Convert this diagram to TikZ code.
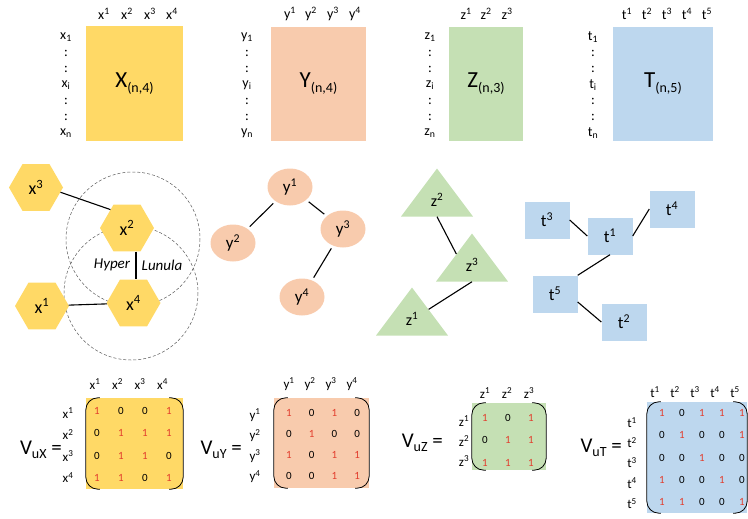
\documentclass[tikz,border=0pt]{standalone}
\usepackage{fontspec}
\setmainfont{Carlito}
\usetikzlibrary{shapes.geometric,calc}
\definecolor{hlyellow}{HTML}{FFD966}
\definecolor{hlorange}{HTML}{F8CBAD}
\definecolor{hlgreen}{HTML}{C5E0B4}
\definecolor{hlblue}{HTML}{BDD7EE}
\definecolor{hlred}{HTML}{E23D2D}
\newcommand\hlfs[1]{\fontsize{#1}{#1}\selectfont}
\newcommand\hlsub[1]{\raisebox{-0.45ex}{\hlfs{14}#1}}
\newcommand\hlval[1]{\ifnum#1=1 \textcolor{hlred}{1}\else 0\fi}
\tikzset{
 hl data/.style={inner sep=0pt,font=\hlfs{23}},
 hl index/.style={inner sep=0pt,font=\hlfs{14}},
 hl hex/.style={regular polygon,regular polygon sides=6,minimum size=54pt,
                inner sep=0pt,fill=hlyellow,font=\hlfs{18}},
 hl oval/.style={ellipse,minimum width=45pt,minimum height=37pt,
                 inner sep=0pt,fill=hlorange,font=\hlfs{17}},
 hl tri/.style={isosceles triangle,isosceles triangle stretches,
                shape border rotate=90,minimum width=72pt,minimum height=48pt,
                inner sep=0pt,fill=hlgreen,font=\hlfs{16}},
 hl box/.style={rectangle,minimum width=45pt,minimum height=37pt,
                inner sep=0pt,fill=hlblue,font=\hlfs{17}},
 hl link/.style={line width=1.1pt},
 hl gap link/.style={hl link,shorten <=3pt,shorten >=3pt},
 hl lunula/.style={densely dashed,line width=.5pt,gray!70!black},
 hl name/.style={inner sep=0pt,font=\itshape\hlfs{15}},
 hl entry/.style={inner sep=0pt,font=\hlfs{11}},
 hl head/.style={inner sep=0pt,font=\hlfs{13}},
 hl bracket/.style={line width=.8pt,rounded corners=12pt},
 hl lhs/.style={anchor=base east,inner sep=0pt,font=\hlfs{21}}
}
\begin{document}
\begin{tikzpicture}[x=1pt,y=-1pt]
 \useasboundingbox (0,0) rectangle (748,519);
 % data tables
 \node[hl data,fill=hlyellow,minimum width=97pt,minimum height=115pt] (X) at (134.5,83.5) {X\hlsub{(n,4)}};
 \node[hl data,fill=hlorange,minimum width=95pt,minimum height=114pt] (Y) at (318.5,84) {Y\hlsub{(n,4)}};
 \node[hl data,fill=hlgreen,minimum width=74pt,minimum height=114pt] (Z) at (486,84) {Z\hlsub{(n,3)}};
 \node[hl data,fill=hlblue,minimum width=100pt,minimum height=114pt] (T) at (663,84) {T\hlsub{(n,5)}};
 \foreach \c/\px in {1/104,2/127,3/150,4/172}{\node[hl index] (xc\c) at (\px,14) {x\textsuperscript{\c}};}
 \foreach \c/\px in {1/290,2/311,3/333,4/355}{\node[hl index] (yc\c) at (\px,14) {y\textsuperscript{\c}};}
 \foreach \c/\px in {1/466,2/486,3/507}{\node[hl index] (zc\c) at (\px,14) {z\textsuperscript{\c}};}
 \foreach \c/\px in {1/627,2/647,3/667,4/687,5/707}{\node[hl index] (tc\c) at (\px,14) {t\textsuperscript{\c}};}
 \foreach \v/\px in {x/66,y/247,z/430,t/593}{
   \foreach \s [count=\k] in {\v\textsubscript{1},:,:,\v\textsubscript{i},:,:,\v\textsubscript{n}}{
     \node[hl index] (\v r\k) at (\px,21+16*\k) {\s};
   }
 }
 % hypergraph with lunula
 \draw[hl lunula] (133,239) circle[radius=67];
 \draw[hl lunula] (131,293) circle[radius=67];
 \node[hl hex] (x3) at (36,187.5) {x\textsuperscript{3}};
 \node[hl hex] (x2) at (127,228) {x\textsuperscript{2}};
 \node[hl hex] (x4) at (133.5,303) {x\textsuperscript{4}};
 \node[hl hex] (x1) at (42,306) {x\textsuperscript{1}};
 \node[hl name] (hyper) at (112,265) {Hyper};
 \node[hl name] (lunula) at (162,265) {Lunula};
 \draw[hl link] (x3.-11) -- (x2.132);
 \draw[hl link] (x1) -- (x4);
 \draw[hl link] ([xshift=9pt]x2.south) -- ([xshift=2.5pt]x4.north);
 % tree of ovals
 \node[hl oval] (y1) at (290,187) {y\textsuperscript{1}};
 \node[hl oval] (y2) at (233,243) {y\textsuperscript{2}};
 \node[hl oval] (y3) at (343,229) {y\textsuperscript{3}};
 \node[hl oval] (y4) at (302,297) {y\textsuperscript{4}};
 \draw[hl gap link] (y1) -- (y2);
 \draw[hl gap link] (y1) -- (y3);
 \draw[hl gap link] (y3) -- (y4);
 % chain of triangles
 \node[hl tri,anchor=apex] (z2) at (437,168) {z\textsuperscript{2}};
 \node[hl tri,anchor=apex] (z3) at (472,233) {z\textsuperscript{3}};
 \node[hl tri,anchor=apex] (z1) at (412,287) {z\textsuperscript{1}};
 \draw[hl link] (z2.lower side) -- (z3.145);
 \draw[hl link] (z3.lower side) -- (z1.30);
 % tree of boxes
 \node[hl box] (t3) at (547,220) {t\textsuperscript{3}};
 \node[hl box] (t1) at (610,236) {t\textsuperscript{1}};
 \node[hl box] (t4) at (672,209) {t\textsuperscript{4}};
 \node[hl box] (t5) at (555,294) {t\textsuperscript{5}};
 \node[hl box] (t2) at (624,322) {t\textsuperscript{2}};
 \draw[hl link] (t3.east) -- (t1.west);
 \draw[hl link] (t1.east) -- (t4.west);
 \draw[hl link] (t1.south) -- (t5.north east);
 \draw[hl link] ([yshift=-8pt]t5.east) -- (t2.west);
 % incidence matrices
 \node[fill=hlyellow,minimum width=97pt,minimum height=91pt,inner sep=0pt] (MX) at (134.5,443.5) {};
 \node[fill=hlorange,minimum width=95pt,minimum height=90pt,inner sep=0pt] (MY) at (321.5,443) {};
 \node[fill=hlgreen,minimum width=74pt,minimum height=67pt,inner sep=0pt] (MZ) at (509,436.5) {};
 \node[fill=hlblue,minimum width=100pt,minimum height=111pt,inner sep=0pt] (MT) at (697,457.5) {};
 \foreach \m in {MX,MY,MZ,MT}{
   \draw[hl bracket] ([xshift=14pt]\m.north west) -- (\m.north west) -- (\m.south west) -- ([xshift=14pt]\m.south west);
   \draw[hl bracket] ([xshift=-14pt]\m.north east) -- (\m.north east) -- (\m.south east) -- ([xshift=-14pt]\m.south east);
 }
 \node[hl lhs] (vux) at (62,454) {V\hlsub{uX} =};
 \node[hl lhs] (vuy) at (242,454) {V\hlsub{uY} =};
 \node[hl lhs] (vuz) at (443,447) {V\hlsub{uZ} =};
 \node[hl lhs] (vut) at (622,452) {V\hlsub{uT} =};
 \foreach \k in {1,...,4}{
   \node[hl head] (hx\k) at (72.5+22.5*\k,384) {x\textsuperscript{\k}};
   \node[hl head] (sx\k) at (68,391.5+21.5*\k) {x\textsuperscript{\k}};
   \node[hl head] (hy\k) at (268+21*\k,384) {y\textsuperscript{\k}};
   \node[hl head] (sy\k) at (255,394.5+20.5*\k) {y\textsuperscript{\k}};
 }
 \foreach \k in {1,2,3}{
   \node[hl head] (hz\k) at (463+22*\k,393) {z\textsuperscript{\k}};
   \node[hl head] (sz\k) at (464,401+20*\k) {z\textsuperscript{\k}};
 }
 \foreach \k in {1,...,5}{
   \node[hl head] (ht\k) at (635+20*\k,392) {t\textsuperscript{\k}};
   \node[hl head] (st\k) at (632,402+20.3*\k) {t\textsuperscript{\k}};
 }
 \foreach \row [count=\r] in {{1,0,0,1},{0,1,1,1},{0,1,1,0},{1,1,0,1}}{
   \foreach \v [count=\c] in \row {\node[hl entry] (vx\r\c) at (73+24*\c,388.7+22.3*\r) {\hlval{\v}};}
 }
 \foreach \row [count=\r] in {{1,0,1,0},{0,1,0,0},{1,0,1,1},{0,0,1,1}}{
   \foreach \v [count=\c] in \row {\node[hl entry] (vy\r\c) at (266.3+22.7*\c,392+21*\r) {\hlval{\v}};}
 }
 \foreach \row [count=\r] in {{1,0,1},{0,1,1},{1,1,1}}{
   \foreach \v [count=\c] in \row {\node[hl entry] (vz\r\c) at (462+23*\c,395+22.5*\r) {\hlval{\v}};}
 }
 \foreach \row [count=\r] in {{1,0,1,1,1},{0,1,0,0,1},{0,0,1,0,0},{1,0,0,1,0},{1,1,0,0,1}}{
   \foreach \v [count=\c] in \row {\node[hl entry] (vt\r\c) at (642+20*\c,391+22.2*\r) {\hlval{\v}};}
 }
\end{tikzpicture}
\end{document}
